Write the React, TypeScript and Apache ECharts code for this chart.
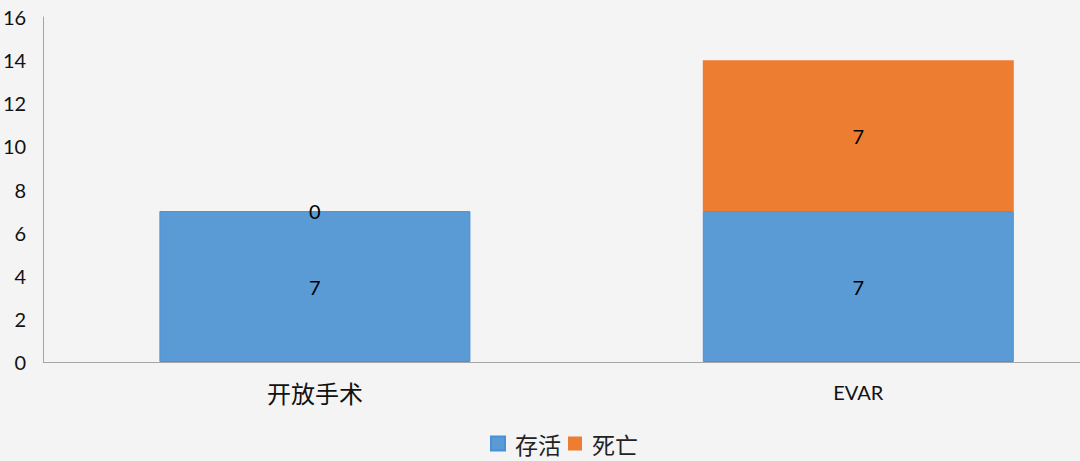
import React, { useEffect, useRef } from "react";
import * as echarts from "echarts";

const categories = ["开放手术", "EVAR"];
const survived = [7, 7];
const died = [0, 7];
const yTicks = { min: 0, max: 16, interval: 2 };

export default function App() {
  const ref = useRef<HTMLDivElement>(null);
  useEffect(() => {
    const chart = echarts.init(ref.current!, null, { renderer: "svg" });
    const labelStyle = {
      show: true,
      position: "inside" as const,
      color: "#000",
      fontSize: 20,
      fontFamily: "Lato",
    };
    chart.setOption({
      animation: false,
      backgroundColor: "#f4f4f4",
      grid: { left: 40, top: 17, right: 0, bottom: 99, containLabel: false },
      legend: {
        left: 485,
        top: 427,
        itemWidth: 14,
        itemHeight: 14,
        itemGap: 7,
        icon: "rect",
        textStyle: {
          fontSize: 23,
          fontFamily: "Noto Sans CJK SC",
          color: "#222",
          padding: [0, 0, 0, 5],
        },
        data: ["存活", "死亡"],
      },
      xAxis: {
        type: "category",
        data: categories,
        axisLine: { show: true, lineStyle: { color: "#a6a6a6", width: 1 } },
        axisTick: { show: false },
        axisLabel: {
          margin: 18,
          formatter: (v: string) =>
            /[\u4e00-\u9fff]/.test(v) ? `{cjk|${v}}` : `{lat|${v}}`,
          rich: {
            cjk: { fontSize: 24, fontFamily: "Noto Sans CJK SC", color: "#111" },
            lat: { fontSize: 20, fontFamily: "Lato", color: "#111", padding: [2, 0, 0, 0] },
          },
        },
      },
      yAxis: {
        type: "value",
        min: yTicks.min,
        max: yTicks.max,
        interval: yTicks.interval,
        axisLine: { show: true, lineStyle: { color: "#a6a6a6", width: 1 } },
        axisTick: { show: false },
        splitLine: { show: false },
        axisLabel: { color: "#111", fontSize: 20, fontFamily: "Lato", margin: 17 },
      },
      series: [
        {
          name: "存活",
          type: "bar",
          stack: "total",
          data: survived,
          barWidth: 311,
          itemStyle: { color: "#5b9bd5", borderColor: "#4a90d9", borderWidth: 1 },
          label: labelStyle,
        },
        {
          name: "死亡",
          type: "bar",
          stack: "total",
          data: died,
          barWidth: 311,
          itemStyle: { color: "#ed7d31", borderWidth: 0 },
          label: labelStyle,
        },
      ],
    });
    return () => chart.dispose();
  }, []);
  return (
    <div
      style={{
        position: "fixed",
        left: 0,
        top: 0,
        width: 1080,
        height: 461,
        overflow: "hidden",
        background: "#f4f4f4",
      }}
    >
      <div ref={ref} style={{ width: 1130, height: 461 }} />
    </div>
  );
}
